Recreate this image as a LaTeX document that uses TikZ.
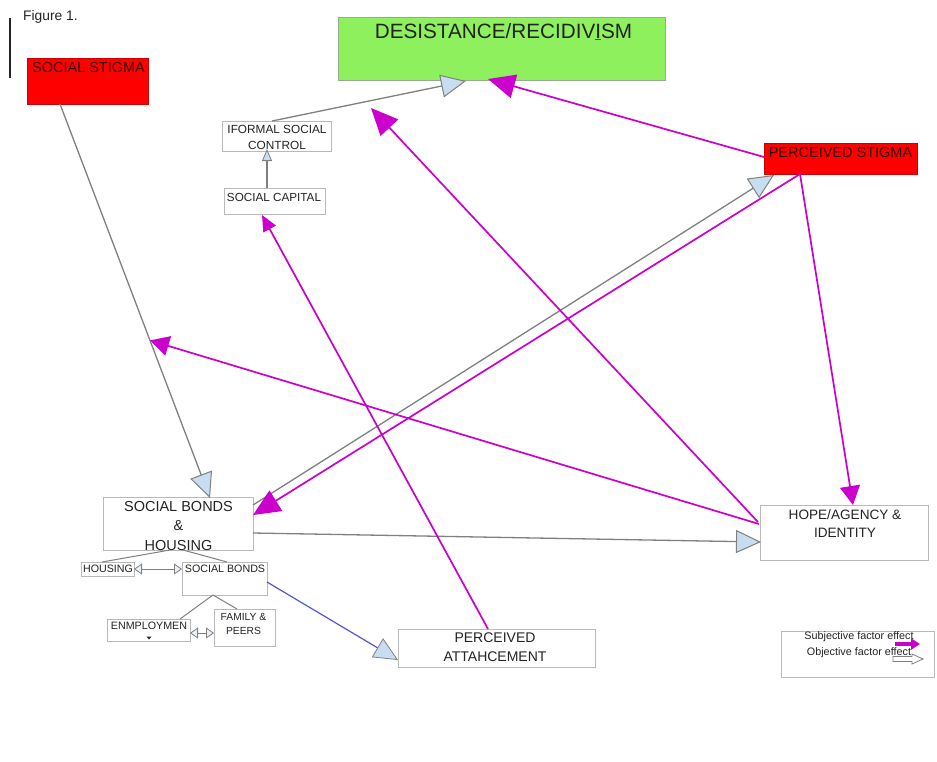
\documentclass[tikz,border=0pt]{standalone}
\usepackage{fontspec}
\setmainfont{Liberation Sans}
\usetikzlibrary{arrows.meta,calc}
\definecolor{mag}{RGB}{204,0,204}
\definecolor{lb}{RGB}{200,222,240}
\definecolor{lgray}{RGB}{128,128,128}
\definecolor{bgray}{RGB}{185,185,185}
\definecolor{dgreen}{RGB}{142,240,92}
\definecolor{greenb}{RGB}{150,170,140}
\definecolor{tdark}{RGB}{35,35,35}
\definecolor{rtext}{RGB}{50,0,0}
\definecolor{bline}{RGB}{85,85,220}
\definecolor{ulblue}{RGB}{40,80,200}
\begin{document}
\begin{tikzpicture}[x=1pt,y=-1pt,
  box/.style={draw=bgray, line width=0.8pt, inner sep=0pt, outer sep=0pt, anchor=north west, fill=white},
  redbox/.style={box, fill=red, draw=red!80!black},
  lbl/.style={inner sep=0pt, align=center, text=tdark},
  gline/.style={draw=lgray, line width=1.3pt},
  mline/.style={draw=mag, line width=1.7pt},
  bline2/.style={draw=bline, line width=1.2pt},
  bigblue/.style={-{Triangle[length=25pt,width=23pt,fill=lb,line width=1pt]}},
  smallblue/.style={-{Triangle[length=12pt,width=10pt,fill=lb,line width=0.8pt]}},
  tinyopen/.style={{Triangle[length=8pt,width=11pt,fill=lb!40,line width=0.8pt]}-{Triangle[length=8pt,width=11pt,fill=lb!40,line width=0.8pt]}},
  bigmag/.style={-{Triangle[length=27pt,width=24pt]}},
  midmag/.style={-{Triangle[length=19pt,width=20pt]}},
  smallmag/.style={-{Triangle[length=16pt,width=14pt]}}
]
\useasboundingbox (0,0) rectangle (937,761);
\fill[white] (0,0) rectangle (937,761);

% boxes
\node[redbox, minimum width=121pt, minimum height=46pt] (sstig) at (27,58) {};
\node[box, fill=dgreen, draw=greenb, minimum width=327pt, minimum height=63pt] (des) at (338,17) {};
\node[box, minimum width=109pt, minimum height=30pt] (ifsc) at (222,121) {};
\node[box, minimum width=101pt, minimum height=26pt] (scap) at (224,188) {};
\node[redbox, minimum width=153pt, minimum height=31pt] (pstig) at (764,143) {};
\node[box, minimum width=150pt, minimum height=53pt] (sbh) at (103,497) {};
\node[box, minimum width=53pt, minimum height=14pt] (hous) at (81,562) {};
\node[box, minimum width=85pt, minimum height=33pt] (sb) at (182,562) {};
\node[box, minimum width=83pt, minimum height=22pt] (emp) at (107,619) {};
\node[box, minimum width=61pt, minimum height=37pt] (fam) at (214,609) {};
\node[box, minimum width=197pt, minimum height=38pt] (patt) at (398,629) {};
\node[box, minimum width=168pt, minimum height=55pt] (hope) at (760,505) {};
\node[box, minimum width=153pt, minimum height=46pt] (leg) at (781,631) {};

% texts
\node[lbl, font=\fontsize{13.8}{16}\selectfont, anchor=west] (fig) at (23,17) {Figure 1.};
\draw[line width=2pt, tdark] (10,18) -- (10,78);
\node[lbl, text=rtext, font=\fontsize{14.5}{17}\selectfont] (tsstig) at (88.5,68) {SOCIAL STIGMA};
\node[lbl, font=\fontsize{20.7}{24}\selectfont] (tdes) at (503.5,31.5) {DESISTANCE/RECIDIV{\color{ulblue}\underline{\color{tdark}I}}SM};
\node[lbl, font=\fontsize{11.8}{16}\selectfont] (tifsc) at (277,137) {IFORMAL SOCIAL\\CONTROL};
\node[lbl, font=\fontsize{11.7}{14}\selectfont] (tscap) at (274,197) {SOCIAL CAPITAL};
\node[lbl, text=rtext, font=\fontsize{14.5}{17}\selectfont] (tpstig) at (840.5,153) {PERCEIVED STIGMA};
\node[lbl, font=\fontsize{14.5}{19.5}\selectfont] (tsbh) at (178.5,525.5) {SOCIAL BONDS\\\&\\HOUSING};
\node[lbl, font=\fontsize{13.6}{18}\selectfont] (thope) at (845,524) {HOPE/AGENCY \&\\IDENTITY};
\node[lbl, font=\fontsize{14}{19}\selectfont] (tpatt) at (495,647.5) {PERCEIVED\\ATTAHCEMENT};
\node[lbl, font=\fontsize{10.7}{13}\selectfont] (thous) at (108,568.5) {HOUSING};
\node[lbl, font=\fontsize{10.7}{13}\selectfont] (tsb) at (225,569) {SOCIAL BONDS};
\node[lbl, font=\fontsize{10.7}{13}\selectfont] (temp) at (149,626) {ENMPLOYMEN};
\fill[tdark] (146.5,636.5) -- (151.5,636.5) -- (149,639.5) -- cycle;
\node[lbl, font=\fontsize{10.3}{14}\selectfont] (tfam) at (243.5,624) {FAMILY \&\\PEERS};
\node[lbl, font=\fontsize{10.8}{16}\selectfont] (tleg) at (859,645) {Subjective factor effect\\Objective factor effect};

% coordinates
\coordinate (ssA) at ($(sstig.north west)+(33,46)$);
\coordinate (ssB) at ($(sbh.north west)+(107,1)$);
\coordinate (cross) at ($(ssA)!0.6!(ssB)$);
\coordinate (t5) at (371,108);
\coordinate (pbot) at ($(pstig.north west)+(36,31)$);

% objective (gray) connectors
\draw[gline, bigblue] (ssA) -- (ssB);
\draw[gline, bigblue] ($(ifsc.north west)+(50,0)$) -- ($(des.north west)+(128,64)$);
\draw[gline, smallblue] ($(scap.north west)+(43,0)$) -- ($(ifsc.north west)+(45,28)$);
\draw[gline, bigblue] ($(sbh.north west)+(150,8)$) -- ($(pstig.north west)+(10,32)$);
\draw[gline, bigblue] ($(sbh.north west)+(150,36)$) -- ($(hope.north west)+(1,37)$);
\draw[bline2, -{Triangle[length=24pt,width=22pt,fill=lb,line width=0.8pt,color=lgray]}] ($(sb.north west)+(85,20)$) -- ($(patt.north west)+(0,31)$);
\draw[gline, line width=1pt] ($(sbh.north west)+(67,53)$) -- ($(hous.north west)+(21,0)$);
\draw[gline, line width=1pt] ($(sbh.north west)+(80,53)$) -- ($(sb.north west)+(45,0)$);
\draw[gline, line width=1pt, tinyopen] ($(hous.north west)+(53,7)$) -- ($(sb.north west)+(0,7)$);
\draw[gline, line width=1pt] ($(sb.north west)+(31,33)$) -- ($(emp.north west)+(73,0)$);
\draw[gline, line width=1pt] ($(sb.north west)+(31,33)$) -- ($(fam.north west)+(23,0)$);
\draw[gline, line width=1pt, tinyopen] ($(emp.north west)+(83,14)$) -- ($(fam.north west)+(0,24)$);

% subjective (magenta) connectors
\draw[mline, bigmag] ($(pstig.north west)+(0,14)$) -- ($(des.north west)+(150,62)$);
\draw[mline, bigmag] ($(hope.north west)+(-2,17)$) -- (t5);
\draw[mline, bigmag] (pbot) -- ($(sbh.north west)+(150,18)$);
\draw[mline, midmag] (pbot) -- ($(hope.north west)+(93,0)$);
\draw[mline, midmag] ($(hope.north west)+(-1,19)$) -- (cross);
\draw[mline, smallmag] ($(patt.north west)+(90,0)$) -- ($(scap.north west)+(38,27)$);

% legend arrows
\coordinate (lmA) at (895,644);
\coordinate (lmB) at (920,644);
\draw[mag, line width=4pt, -{Triangle[length=9pt,width=11pt]}] (lmA) -- (lmB);
\draw[lgray, line width=0.8pt, fill=white] (893,656.5) -- (912,656.5) -- (912,654) -- (923,659) -- (912,664) -- (912,661.5) -- (893,661.5) -- cycle;
\end{tikzpicture}
\end{document}
